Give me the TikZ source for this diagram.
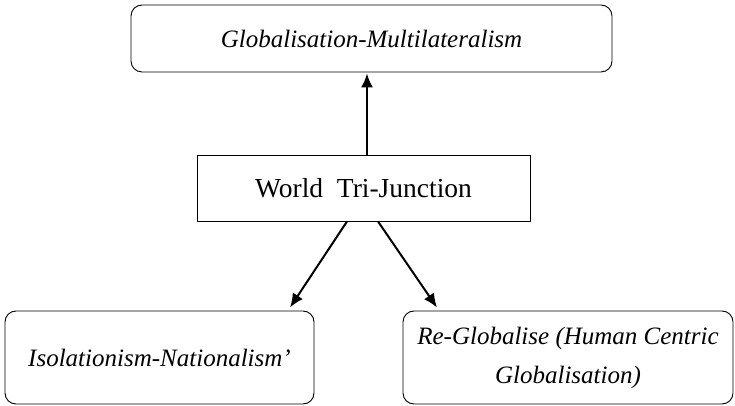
\documentclass[tikz,border=0pt]{standalone}
\usepackage{fontspec}
\setmainfont{Liberation Serif}
\usetikzlibrary{arrows.meta}
\begin{document}
\begin{tikzpicture}[x=1pt,y=1pt,
  rbox/.style={draw, line width=0.9pt, rounded corners=11pt, inner sep=0pt, align=center,
    font=\fontsize{25}{39}\selectfont\itshape},
  sbox/.style={draw, line width=0.9pt, inner sep=0pt, font=\fontsize{27.5}{30}\selectfont},
  arr/.style={line width=2pt, -{Latex[length=14pt,width=12pt]}}]
\useasboundingbox (0,0) rectangle (735,406);
\node[rbox, minimum width=481pt, minimum height=67pt] (top) at (371.5,367.5) {Globalisation-Multilateralism};
\node[sbox, minimum width=333pt, minimum height=66pt] (mid) at (363.5,218) {World\ \ Tri-Junction};
\node[rbox, minimum width=309pt, minimum height=93pt] (bl) at (159.5,48.5) {Isolationism-Nationalism'};
\node[rbox, minimum width=330pt, minimum height=93pt] (br) at (568,48.5) {Re-Globalise (Human Centric\\Globalisation)};
\draw[arr] ([xshift=3.5pt]mid.north) -- ([xshift=-4.5pt,yshift=-1pt]top.south);
\draw[arr] ([xshift=-16.5pt]mid.south) -- ([xshift=130.5pt,yshift=3pt]bl.north);
\draw[arr] ([xshift=14.5pt]mid.south) -- ([xshift=-131pt,yshift=3pt]br.north);
\end{tikzpicture}
\end{document}
